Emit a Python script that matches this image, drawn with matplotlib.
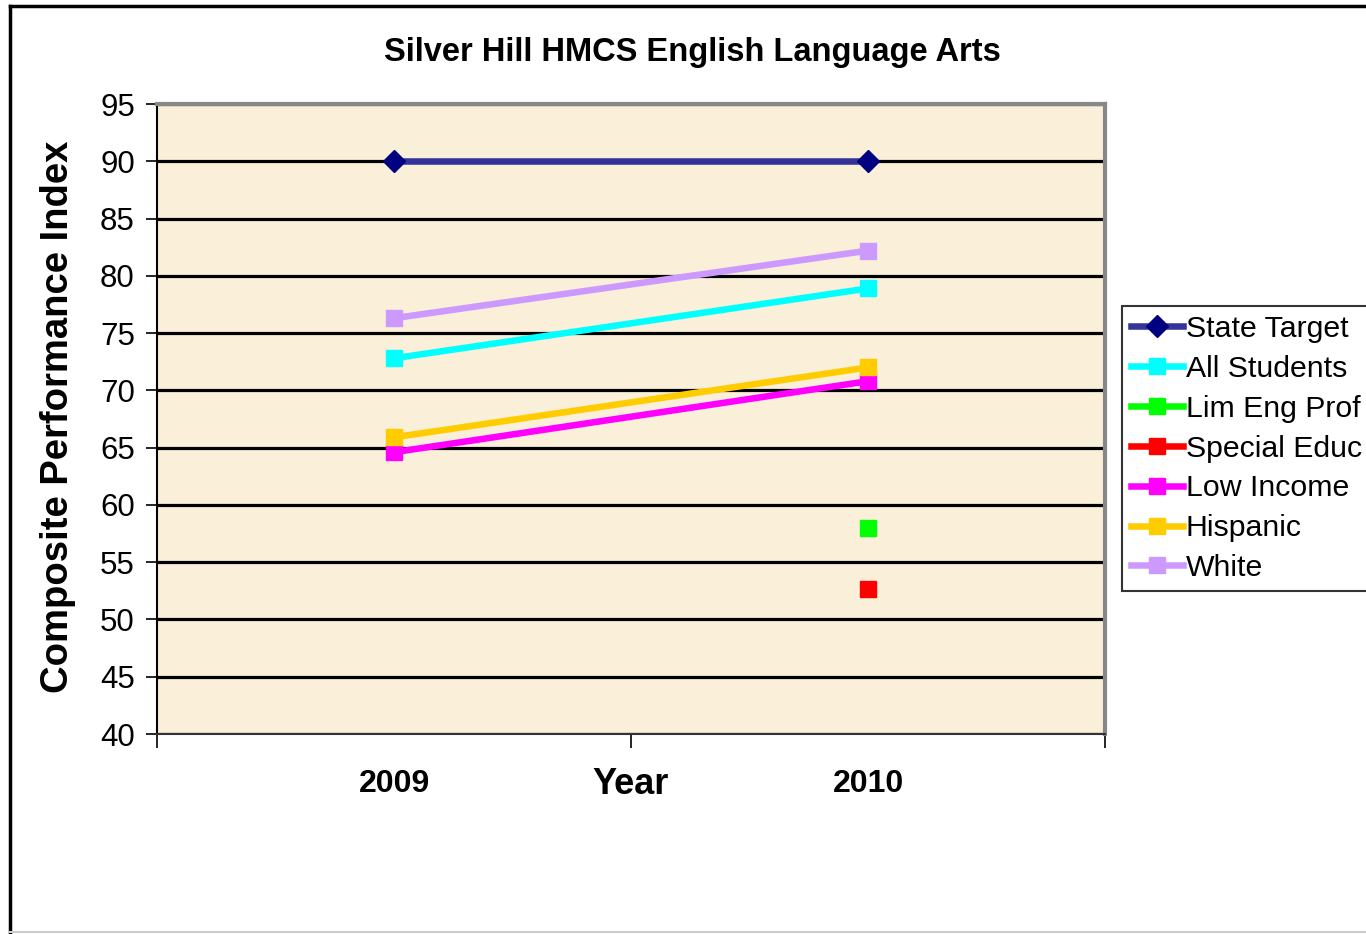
import numpy as np
import matplotlib
matplotlib.use("Agg")
import matplotlib.pyplot as plt
from matplotlib.lines import Line2D

plt.rcParams['font.family'] = ['Liberation Sans', 'DejaVu Sans']

years = ['2009', '2010']
state_target = [90.0, 90.0]
all_students = [72.8, 78.9]
lim_eng_prof = [np.nan, 58.0]
special_educ = [np.nan, 52.7]
low_income = [64.6, 70.8]
hispanic = [65.9, 72.0]
white = [76.3, 82.2]

series = [
    ('State Target', state_target, '#333399', '#000080', 'D'),
    ('All Students', all_students, '#00FFFF', '#00FFFF', 's'),
    ('Lim Eng Prof', lim_eng_prof, '#00FF00', '#00FF00', 's'),
    ('Special Educ', special_educ, '#FF0000', '#FF0000', 's'),
    ('Low Income', low_income, '#FF00FF', '#FF00FF', 's'),
    ('Hispanic', hispanic, '#FFCC00', '#FFCC00', 's'),
    ('White', white, '#CC99FF', '#CC99FF', 's'),
]

fig = plt.figure(figsize=(13.66, 9.34), dpi=100)
ax = fig.add_axes([157/1366, 200/934, 948/1366, 630/934])
ax.set_facecolor('#FAEFD9')

x = np.arange(len(years))
for name, vals, lc, mc, mk in series:
    ax.plot(x, vals, color=lc, lw=4.7, marker=mk,
            markersize=11 if mk == 'D' else 11.5,
            markerfacecolor=mc, markeredgecolor=mc, label=name, zorder=3)

ax.set_xlim(-0.5, 1.5)
ax.set_ylim(40, 95)
ax.set_yticks(np.arange(40, 96, 5))
ax.tick_params(axis='y', labelsize=22.5, length=8, width=1.2, direction='out', pad=8)
ax.set_xticks([-0.5, 0.5, 1.5])
ax.set_xticklabels([])
ax.tick_params(axis='x', which='major', length=10, width=1.2, direction='out')
ax.set_xticks(x, minor=True)
ax.set_xticklabels(years, minor=True, fontsize=23, fontweight='bold')
ax.tick_params(axis='x', which='minor', length=0, pad=25)

ax.set_axisbelow(True)
ax.yaxis.grid(True, color='black', lw=2.3)

ax.spines['left'].set_color('black')
ax.spines['left'].set_linewidth(1.5)
ax.spines['bottom'].set_color('#333333')
ax.spines['bottom'].set_linewidth(1.5)
for s in ['top', 'right']:
    ax.spines[s].set_color('#888888')
    ax.spines[s].set_linewidth(3)

fig.text(631/1366, 1 - 785/934, 'Year', ha='center', va='center', fontsize=26,
         fontweight='bold')
fig.text(58/1366, 1 - 417/934, 'Composite Performance Index', rotation=90,
         ha='center', va='center', fontsize=27.5, fontweight='bold')
fig.text(692/1366, 1 - 53/934, 'Silver Hill HMCS English Language Arts',
         ha='center', va='center', fontsize=23.5, fontweight='bold')

leg = fig.legend(loc='upper left', bbox_to_anchor=(1122/1366, 1 - 306/934),
                 fontsize=21.8, frameon=True, fancybox=False, borderpad=0.3,
                 handlelength=1.7, handletextpad=0.1, labelspacing=0.39,
                 borderaxespad=0)
leg.get_frame().set_edgecolor('black')
leg.get_frame().set_linewidth(1.5)

# outer chart border
fig.add_artist(Line2D([10/1366, 10/1366], [0, 1 - 6/934], color='black', lw=2.5))
fig.add_artist(Line2D([10/1366, 1], [1 - 6/934, 1 - 6/934], color='black', lw=2.5))
fig.add_artist(Line2D([10/1366, 1], [2/934, 2/934], color='#CCCCCC', lw=1.5))

fig.savefig('out.png', dpi=100)
